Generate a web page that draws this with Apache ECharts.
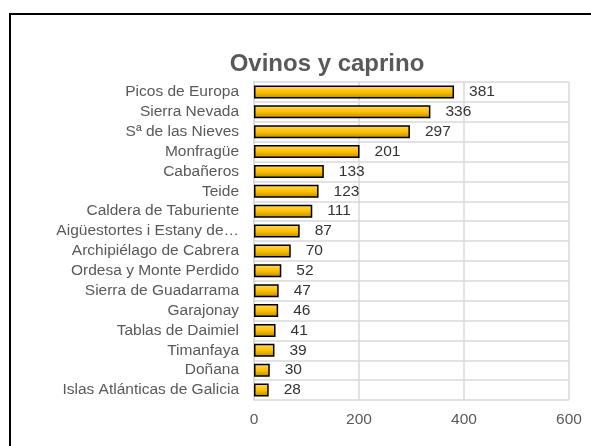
<!DOCTYPE html>
<html lang="es">
  <head>
    <meta charset="UTF-8" />
    <title>Ovinos y caprino</title>
    <script src="https://cdn.jsdelivr.net/npm/echarts@6/dist/echarts.min.js"></script>
    <style>
      html, body { margin: 0; padding: 0; background: #fff; }
    </style>
  </head>
  <body>
    <div id="main" style="width: 591px;height:446px;"></div>
    <script type="text/javascript">
      // parques, de abajo arriba (como los dibuja el eje de categorias)
      var parques = [
        "Islas Atlánticas de Galicia",
        "Doñana",
        "Timanfaya",
        "Tablas de Daimiel",
        "Garajonay",
        "Sierra de Guadarrama",
        "Ordesa y Monte Perdido",
        "Archipiélago de Cabrera",
        "Aigüestortes i Estany de Sant Maurici",
        "Caldera de Taburiente",
        "Teide",
        "Cabañeros",
        "Monfragüe",
        "Sª de las Nieves",
        "Sierra Nevada",
        "Picos de Europa"
      ];
      var cabezas = [28, 30, 39, 41, 46, 47, 52, 70, 87, 111, 123, 133, 201, 297, 336, 381];
      var ejeX = [0, 200, 400, 600];

      var myChart = echarts.init(document.getElementById("main"));
      var fuente = "Liberation Sans, Arial, sans-serif";
      var gris = "#595959";

      myChart.setOption({
        animation: false,
        title: {
          text: "Ovinos y caprino",
          left: 322,
          top: 47,
          textAlign: "center",
          textStyle: { fontFamily: fuente, fontSize: 24, fontWeight: "bold", color: gris }
        },
        graphic: [
          {
            type: "rect",
            shape: { x: 10, y: 14, width: 700, height: 600 },
            style: { fill: "none", stroke: "#000", lineWidth: 2 },
            silent: true
          }
        ],
        grid: { left: 254, right: 22, top: 82, bottom: 46 },
        xAxis: {
          type: "value",
          min: ejeX[0],
          max: ejeX[ejeX.length - 1],
          interval: 200,
          axisLine: { show: false },
          axisTick: { show: false },
          axisLabel: { margin: 12, fontFamily: fuente, fontSize: 15.5, color: gris },
          splitLine: { lineStyle: { color: "#d9d9d9", width: 1.5 } }
        },
        yAxis: {
          type: "category",
          data: parques,
          axisLine: { show: true, lineStyle: { color: "#d9d9d9", width: 1.5 } },
          axisTick: { show: false },
          axisLabel: {
            interval: 0,
            margin: 15,
            fontFamily: fuente,
            fontSize: 15.5,
            color: gris,
            width: 190,
            overflow: "truncate",
            ellipsis: "…"
          },
          splitLine: { show: true, interval: 0, lineStyle: { color: "#d9d9d9", width: 1.5 } }
        },
        series: [
          {
            type: "bar",
            data: cabezas,
            barWidth: 13,
            itemStyle: {
              borderColor: "#000",
              borderWidth: 1.5,
              color: new echarts.graphic.LinearGradient(0, 0, 0, 1, [
                { offset: 0, color: "#ffd966" },
                { offset: 0.5, color: "#ffc000" },
                { offset: 1, color: "#b98b00" }
              ])
            },
            label: {
              show: true,
              position: "right",
              distance: 15,
              fontFamily: fuente,
              fontSize: 15.5,
              color: "#333333"
            }
          }
        ]
      });
    </script>
  </body>
</html>
